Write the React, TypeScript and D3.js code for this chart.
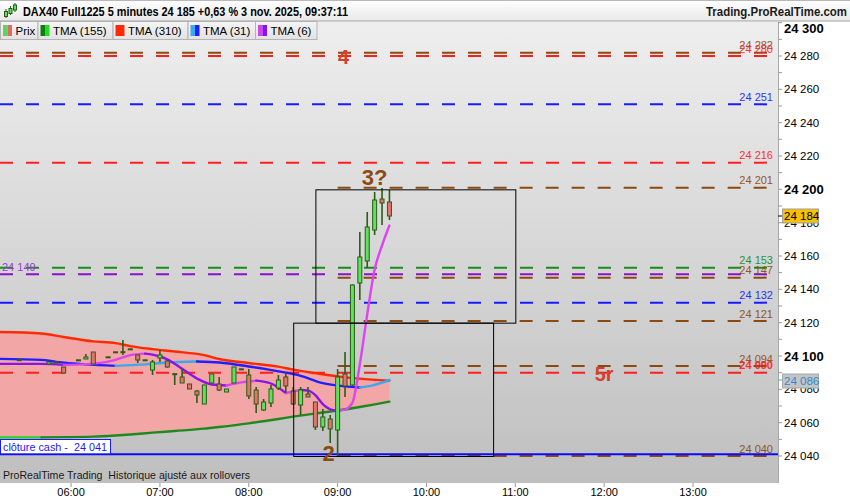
import * as d3 from 'd3'

const at = (hm: string) => {
  const [h, m] = hm.split(':').map(Number)
  return new Date(2025, 10, 3, h, m)
}

// 5 minute candles, DAX40 Full1225, 3 nov. 2025
const candleTimes = [
  '05:25', '05:45', '05:50', '05:55', '06:05', '06:10', '06:15', '06:25', '06:30', '06:35',
  '06:40', '06:45', '06:50', '06:55', '07:00', '07:05', '07:10', '07:15', '07:20', '07:25',
  '07:30', '07:35', '07:40', '07:45', '07:50', '07:55', '08:00', '08:05', '08:10', '08:15',
  '08:20', '08:25', '08:30', '08:35', '08:40', '08:45', '08:50', '08:55', '09:00', '09:05',
  '09:10', '09:15', '09:20', '09:25', '09:30', '09:35',
]
const opens = [
  24097.8, 24095.2, 24096.5, 24093.4, 24097.7, 24098.2, 24102.4, 24099.5, 24102.5, 24102.6,
  24104.3, 24100.6, 24097.7, 24091.6, 24098.8, 24097.0, 24089.4, 24087.4, 24083.2, 24079.0,
  24071.2, 24083.8, 24083.2, 24078.4, 24083.8, 24092.3, 24088.6, 24079.6, 24067.6, 24071.8,
  24080.8, 24087.4, 24079.0, 24070.6, 24077.2, 24072.4, 24057.4, 24062.2, 24055.6, 24089.2,
  24082.6, 24143.8, 24157.0, 24175.6, 24194.2, 24192.4,
]
const highs = [
  24097.8, 24096.6, 24096.5, 24093.4, 24097.7, 24101.2, 24102.4, 24099.5, 24102.5, 24109.6,
  24104.3, 24100.6, 24097.7, 24097.6, 24103.6, 24097.6, 24089.4, 24092.2, 24083.2, 24079.6,
  24082.6, 24089.2, 24087.4, 24080.2, 24093.4, 24092.3, 24092.2, 24081.4, 24074.2, 24082.6,
  24088.6, 24089.8, 24081.4, 24081.4, 24081.4, 24072.4, 24068.2, 24064.6, 24092.2, 24102.4,
  24143.0, 24174.4, 24186.4, 24198.4, 24200.8, 24199.6,
]
const lows = [
  24097.4, 24095.0, 24096.3, 24089.8, 24097.5, 24098.2, 24095.2, 24099.3, 24102.3, 24100.6,
  24104.1, 24095.8, 24097.5, 24088.6, 24096.4, 24093.0, 24082.6, 24083.8, 24080.2, 24071.8,
  24071.2, 24083.8, 24079.0, 24078.4, 24083.8, 24092.1, 24074.2, 24065.8, 24067.0, 24069.4,
  24079.6, 24077.8, 24070.6, 24064.6, 24075.4, 24055.6, 24055.0, 24047.8, 24039.4, 24075.4,
  24082.0, 24133.6, 24152.8, 24172.6, 24178.6, 24181.6,
]
const closes = [
  24097.4, 24096.4, 24096.3, 24089.8, 24097.5, 24099.4, 24095.2, 24099.3, 24102.3, 24102.2,
  24104.1, 24097.6, 24097.5, 24096.4, 24100.6, 24093.4, 24089.0, 24083.8, 24080.2, 24076.6,
  24082.6, 24089.2, 24079.6, 24080.2, 24093.4, 24092.1, 24076.0, 24071.2, 24072.4, 24080.2,
  24085.6, 24082.0, 24071.2, 24079.6, 24075.4, 24057.4, 24063.4, 24056.2, 24087.4, 24082.0,
  24142.6, 24159.4, 24177.4, 24193.6, 24191.8, 24184.0,
]

// TMA (310) and TMA (155), read at the same times
const longTimes = [
  '05:10', '05:40', '05:55', '06:15', '06:30', '06:40', '06:55', '07:10', '07:30', '07:40',
  '08:00', '08:20', '08:30', '08:45', '09:00', '09:15', '09:35',
]
const tma310 = [
  24114.4, 24113.5, 24111.4, 24108.8, 24107.7, 24105.9, 24104.1, 24102.7, 24100.5, 24098.2,
  24095.8, 24093.6, 24091.8, 24089.7, 24087.8, 24086.4, 24085.2,
]
const tma155 = [
  24051.2, 24051.2, 24051.3, 24051.6, 24052.3, 24052.9, 24054.0, 24055.0, 24056.4, 24057.4,
  24059.6, 24062.2, 24063.6, 24065.5, 24067.3, 24069.4, 24072.6,
]

// TMA (31)
const tma31Times = [
  '05:10', '05:40', '05:50', '06:10', '06:30', '06:50', '07:05', '07:25', '07:40', '08:00',
  '08:20', '08:35', '08:50', '09:05', '09:15', '09:25', '09:35',
]
const tma31 = [
  24098.3, 24097.7, 24096.5, 24095.0, 24094.1, 24095.0, 24096.1, 24096.7, 24096.1, 24093.7,
  24090.8, 24088.1, 24083.7, 24081.8, 24081.1, 24082.7, 24085.6,
]

// TMA (6)
const tma6Times = [
  '05:10', '05:40', '05:55', '06:10', '06:20', '06:30', '06:40', '06:50', '06:55', '07:05',
  '07:15', '07:25', '07:35', '07:45', '07:55', '08:05', '08:15', '08:25', '08:30', '08:35',
  '08:40', '08:45', '08:50', '08:55', '09:00', '09:05', '09:10', '09:15', '09:20', '09:25',
  '09:30', '09:35',
]
const tma6 = [
  24095.3, 24095.3, 24094.7, 24095.1, 24095.9, 24097.7, 24100.5, 24101.4, 24100.8, 24098.0,
  24092.3, 24086.5, 24082.9, 24082.3, 24084.2, 24085.2, 24083.5, 24077.8, 24078.8, 24079.6,
  24079.2, 24076.5, 24071.1, 24068.0, 24067.2, 24067.8, 24072.0, 24095.0, 24125.0, 24151.9,
  24166.3, 24178.3,
]

// horizontal levels
const levelPrices = [24282, 24280, 24251, 24216, 24201, 24153, 24149, 24147, 24132, 24121, 24094, 24090, 24040]
const levelKinds = ['brown', 'red', 'blue', 'red', 'brown', 'green', 'purple', 'brown', 'blue', 'brown', 'brown', 'red', 'brown']
const levelFrom = ['', '', '', '', '09:00', '', '', '09:00', '', '09:00', '09:00', '', '09:00']
const closeCash = 24041

// rectangles: [from, to, top price, bottom price]
const boxFrom = ['08:45', '08:30']
const boxTo = ['11:00', '10:45']
const boxTop = [24200, 24120]
const boxBottom = [24120, 24040]

// wave labels
const noteTexts = ['4', '3?', '5r', '2']
const noteTimes = ['09:04', '09:25', '12:00', '08:54']
const notePrices = [24279.5, 24207, 24089, 24041.5]
const noteKinds = ['red', 'brown', 'red', 'brown']

const hourTicks = ['06:00', '07:00', '08:00', '09:00', '10:00', '11:00', '12:00', '13:00']
const legendNames = ['Prix', 'TMA (155)', 'TMA (310)', 'TMA (31)', 'TMA (6)']

const title = 'DAX40 Full1225 5 minutes 24 185 +0,63 % 3 nov. 2025, 09:37:11'

const FONT = '"Liberation Sans", Arial, sans-serif'
const PLOT_R = 778
const PLOT_T = 22
const PLOT_B = 483

const levelColor: Record<string, string> = {
  brown: '#8b4a12', red: '#ff1f1f', blue: '#1a1aff', green: '#1c8a1c', purple: '#8a12c8',
}
const noteColor: Record<string, string> = { red: '#d2402e', brown: '#8b4a12' }
const legendSwatch = [
  ['#5bd65b', '#e06a66'],
  ['#0f7d0f', '#22dd22'],
  ['#ff2a00', '#ff2a00'],
  ['#3aa8ee', '#2020ff'],
  ['#cf45ec', '#8a12e8'],
]
const legendEdges = [0, 37.5, 112.5, 187.5, 255, 316.5]

const WICK = '#2b5d17'
const UP = '#5fe05f'
const DOWN = '#e3736b'

const fmt = (v: number) => {
  const s = String(Math.round(v))
  return s.slice(0, 2) + ' ' + s.slice(2)
}

// split a series into rising / falling runs so each gets its own colour
function slopeRuns(times: Date[], vals: number[]) {
  const runs: { up: boolean; pts: [Date, number][] }[] = []
  for (let i = 0; i < vals.length - 1; i++) {
    const up = vals[i + 1] > vals[i]
    const last = runs[runs.length - 1]
    if (last && last.up === up) last.pts.push([times[i + 1], vals[i + 1]])
    else runs.push({ up, pts: [[times[i], vals[i]], [times[i + 1], vals[i + 1]]] })
  }
  return runs
}

export default function App() {
  const x = d3.scaleTime()
    .domain([new Date(2025, 10, 3, 5, 12), new Date(2025, 10, 3, 13, 57, 24)])
    .range([0, PLOT_R])
  const y = d3.scaleLinear().domain([24040, 24300]).range([456, 456 - 260 * (400 / 240)])

  const lt = longTimes.map(at)
  const area = d3.area<number>()
    .x((_, i) => x(lt[i]))
    .y0((_, i) => y(tma155[i]))
    .y1(d => y(d))
    .curve(d3.curveMonotoneX)
  const line = d3.line<[Date, number]>()
    .x(d => x(d[0]))
    .y(d => y(d[1]))
    .curve(d3.curveMonotoneX)

  const maLines = [
    { runs: slopeRuns(lt, tma155), upC: '#1e8a1e', downC: '#26d226' },
    { runs: slopeRuns(lt, tma310), upC: '#ff2a00', downC: '#ff2a00' },
    { runs: slopeRuns(tma31Times.map(at), tma31), upC: '#3aa8ee', downC: '#1f1fff' },
    { runs: slopeRuns(tma6Times.map(at), tma6), upC: '#dc44ee', downC: '#8a16e4' },
  ]

  const yTicks = d3.range(24040, 24301, 10)
  const lastClose = closes[closes.length - 1]
  const lastTma31 = tma31[tma31.length - 1]

  return (
    <svg width={850} height={500} style={{ position: 'fixed', left: 0, top: 0, display: 'block' }}
      fontFamily={FONT}>
      <defs>
        <linearGradient id="plotBg" x1="0" y1="0" x2="0" y2="1">
          <stop offset="0%" stopColor="#eeeeee" />
          <stop offset="100%" stopColor="#bfbfbf" />
        </linearGradient>
        <linearGradient id="headBg" x1="0" y1="0" x2="0" y2="1">
          <stop offset="0%" stopColor="#ffffff" />
          <stop offset="100%" stopColor="#e8e8e8" />
        </linearGradient>
        <linearGradient id="legBg" x1="0" y1="0" x2="0" y2="1">
          <stop offset="0%" stopColor="#f4f4f4" />
          <stop offset="100%" stopColor="#e2e2e2" />
        </linearGradient>
        <clipPath id="plotClip">
          <rect x={0} y={PLOT_T} width={PLOT_R} height={PLOT_B - PLOT_T} />
        </clipPath>
      </defs>

      <rect x={0} y={0} width={850} height={500} fill="#ffffff" />
      <rect x={0} y={PLOT_T} width={PLOT_R} height={PLOT_B - PLOT_T} fill="url(#plotBg)" />

      <g clipPath="url(#plotClip)">
        <path d={area(tma310) ?? ''} fill="#f3a6a6" />

        {levelPrices.map((p, i) => {
          const x0 = levelFrom[i] ? x(at(levelFrom[i])) : 0
          return (
            <line key={'lv' + i} x1={x0} x2={PLOT_R} y1={y(p)} y2={y(p)}
              stroke={levelColor[levelKinds[i]]} strokeWidth={2} strokeDasharray="13 13" />
          )
        })}

        <line x1={0} x2={PLOT_R} y1={y(closeCash)} y2={y(closeCash)} stroke="#0a0aff" strokeWidth={2} />

        {maLines.map((m, k) => m.runs.map((r, j) => (
          <path key={'ma' + k + '-' + j} d={line(r.pts) ?? ''} fill="none"
            stroke={r.up ? m.upC : m.downC} strokeWidth={2.4} strokeLinecap="round" />
        )))}

        {candleTimes.map((t, i) => {
          const cx = x(at(t))
          const o = y(opens[i])
          const c = y(closes[i])
          const top = Math.min(o, c)
          const h = Math.max(1, Math.abs(o - c))
          return (
            <g key={'c' + i}>
              <line x1={cx} x2={cx} y1={y(highs[i])} y2={y(lows[i])} stroke={WICK} strokeWidth={1.6} />
              <rect x={cx - 2} y={top} width={4} height={h}
                fill={closes[i] >= opens[i] ? UP : DOWN} stroke={WICK} strokeWidth={1} />
            </g>
          )
        })}

        {boxFrom.map((f, i) => (
          <rect key={'bx' + i} x={x(at(f)) + 0.5} y={y(boxTop[i]) + 0.5}
            width={x(at(boxTo[i])) - x(at(f))} height={y(boxBottom[i]) - y(boxTop[i])}
            fill="none" stroke="#000000" strokeWidth={1} />
        ))}

        {levelPrices.map((p, i) => levelKinds[i] === 'purple' ? (
          <text key={'lt' + i} x={2} y={y(p) - 3} fontSize={11} fill="#9a3ad8">{fmt(p)}</text>
        ) : (
          <text key={'lt' + i} x={773} y={y(p) - 3.5} fontSize={11} textAnchor="end"
            fill={levelColor[levelKinds[i]] === '#ff1f1f' ? '#ff2020' : levelColor[levelKinds[i]]}
            fontWeight={p === 24090 ? 'bold' : 'normal'} opacity={0.9}>{fmt(p)}</text>
        ))}

        {noteTexts.map((s, i) => (
          <text key={'n' + i} x={x(at(noteTimes[i]))} y={y(notePrices[i])} textAnchor="middle"
            dominantBaseline="central" fontWeight="bold" fontSize={s === '3?' || s === '2' ? 22 : 20}
            fill={noteColor[noteKinds[i]]}>{s}</text>
        ))}

        <rect x={0.5} y={439.5} width={110} height={y(closeCash) - 440} fill="#ffffff" stroke="#1a1aff" strokeWidth={1} />
        <text x={3} y={451} fontSize={11.5} fill="#1a1aff" textLength={104} lengthAdjust="spacingAndGlyphs"
          style={{ whiteSpace: 'pre' }}>{'clôture cash -  ' + fmt(closeCash)}</text>
        <text x={3} y={479} fontSize={11.5} fill="#1a1a1a" textLength={247} lengthAdjust="spacingAndGlyphs"
          style={{ whiteSpace: 'pre' }}>ProRealTime Trading  Historique ajusté aux rollovers</text>
      </g>

      {/* right price axis */}
      <line x1={PLOT_R + 0.5} x2={PLOT_R + 0.5} y1={PLOT_T} y2={PLOT_B} stroke="#a8a8a8" />
      {yTicks.map(v => (
        <line key={'yt' + v} x1={PLOT_R} x2={PLOT_R + 4} y1={y(v)} y2={y(v)} stroke="#999999" />
      ))}
      {yTicks.filter(v => v % 20 === 0).map(v => {
        const bold = v % 100 === 0
        return (
          <text key={'yl' + v} x={784} y={Math.max(y(v), 28)} dominantBaseline="central"
            fontSize={bold ? 13 : 11.5} fontWeight={bold ? 'bold' : 'normal'} fill="#000000">{fmt(v)}</text>
        )
      })}

      <line x1={PLOT_R} x2={PLOT_R + 4} y1={y(lastClose)} y2={y(lastClose)} stroke="#000000" />
      <rect x={782.5} y={y(lastClose) - 7} width={36} height={14} fill="#f6c100" stroke="#a0a0a0" />
      <text x={784} y={y(lastClose)} dominantBaseline="central" fontSize={11.5} fill="#000000">{fmt(lastClose)}</text>

      <line x1={PLOT_R} x2={PLOT_R + 4} y1={y(lastTma31)} y2={y(lastTma31)} stroke="#3aa8ee" />
      <rect x={782.5} y={y(lastTma31) - 6} width={36} height={14} fill="#c4c4c4" stroke="#a8a8a8" />
      <text x={784} y={y(lastTma31) + 1} dominantBaseline="central" fontSize={11.5} fill="#2a8ad6">{fmt(lastTma31)}</text>

      {/* time axis */}
      {hourTicks.map(h => (
        <g key={'h' + h}>
          <line x1={x(at(h))} x2={x(at(h))} y1={PLOT_B} y2={PLOT_B + 4} stroke="#999999" />
          <text x={x(at(h))} y={496} textAnchor="middle" fontSize={11} fill="#000000">{h}</text>
        </g>
      ))}

      {/* header */}
      <rect x={0} y={0} width={850} height={21} fill="url(#headBg)" />
      <line x1={0} x2={850} y1={0.5} y2={0.5} stroke="#b8b8b8" />
      <line x1={0} x2={850} y1={21} y2={21} stroke="#a0a0a0" />
      <g stroke={WICK} strokeWidth={1}>
        <line x1={6} x2={6} y1={9} y2={18} />
        <rect x={4.5} y={11.5} width={3} height={5} fill={UP} />
        <line x1={10.5} x2={10.5} y1={6} y2={15} />
        <rect x={9} y={8.5} width={3} height={5} fill={UP} />
        <line x1={15} x2={15} y1={3} y2={12} />
        <rect x={13.5} y={5} width={3} height={5} fill={UP} />
      </g>
      <text x={23} y={16} fontSize={12} fontWeight="bold" fill="#000000"
        textLength={325} lengthAdjust="spacingAndGlyphs">{title}</text>
      <text x={847} y={16} fontSize={12} fontWeight="bold" textAnchor="end" fill="#1a1a1a"
        textLength={141} lengthAdjust="spacingAndGlyphs">Trading.ProRealTime.com</text>

      {/* legend */}
      {legendNames.map((n, i) => {
        const x0 = legendEdges[i]
        return (
          <g key={'lg' + i}>
            <rect x={x0 + 0.5} y={21.5} width={legendEdges[i + 1] - x0} height={18} fill="url(#legBg)" stroke="#b4b4b4" />
            <rect x={x0 + 3} y={25} width={4.5} height={11} fill={legendSwatch[i][0]} />
            <rect x={x0 + 7.5} y={25} width={4.5} height={11} fill={legendSwatch[i][1]} />
            <text x={x0 + 15.5} y={34.5} fontSize={11.5} fill="#000000">{n}</text>
          </g>
        )
      })}
    </svg>
  )
}
